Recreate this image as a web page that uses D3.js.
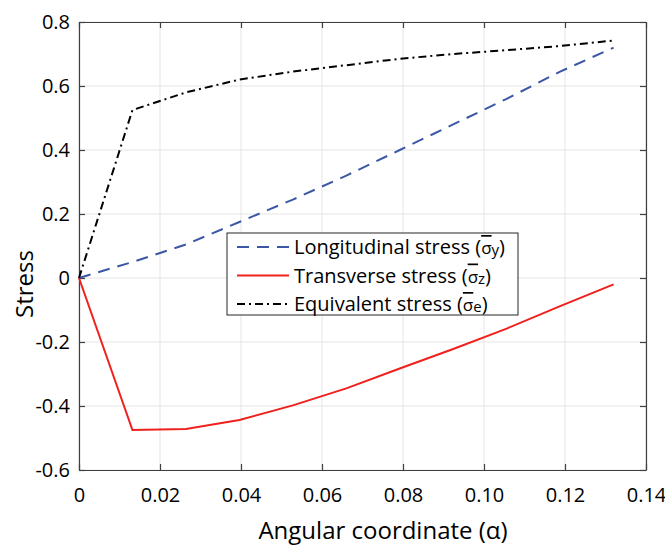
<!DOCTYPE html>
<html>
<head>
<meta charset="utf-8">
<script src="https://cdn.jsdelivr.net/npm/d3@7"></script>
<style>
  body { margin: 0; background: #fff; }
  text { font-family: "Open Sans", sans-serif; fill: #000; }
</style>
</head>
<body>
<svg id="chart" width="665" height="548"></svg>
<script>
// angular coordinate samples
var alpha = [0, 0.0132, 0.0264, 0.0396, 0.0528, 0.066, 0.0792, 0.0924, 0.1056, 0.1188, 0.132];
// longitudinal, transverse, equivalent stress
var longitudinal = [0, 0.05, 0.105, 0.175, 0.245, 0.32, 0.40, 0.48, 0.56, 0.645, 0.72];
var transverse = [0, -0.475, -0.472, -0.444, -0.398, -0.345, -0.283, -0.222, -0.158, -0.088, -0.02];
var equivalent = [0, 0.525, 0.58, 0.62, 0.645, 0.665, 0.685, 0.70, 0.712, 0.725, 0.742];

var xTicks = [0, 0.02, 0.04, 0.06, 0.08, 0.10, 0.12, 0.14];
var xTickLabels = ["0", "0.02", "0.04", "0.06", "0.08", "0.10", "0.12", "0.14"];
var yTicks = [-0.6, -0.4, -0.2, 0, 0.2, 0.4, 0.6, 0.8];
var yTickLabels = ["-0.6", "-0.4", "-0.2", "0", "0.2", "0.4", "0.6", "0.8"];

var series = [
    { name: "Longitudinal stress (", sub: "y", values: longitudinal, color: "#3b57a6", dash: "12,8", width: 2 },
    { name: "Transverse stress (", sub: "z", values: transverse, color: "#f0201c", dash: null, width: 2 },
    { name: "Equivalent stress (", sub: "e", values: equivalent, color: "#000", dash: "8,4,2,4", width: 2 }
];

var margin = { top: 22, right: 19, bottom: 78, left: 79 };
var width = 665 - margin.left - margin.right;
var height = 548 - margin.top - margin.bottom;

var svg = d3.select("#chart");
var g = svg.append("g").attr("transform", "translate(" + margin.left + "," + margin.top + ")");

var x = d3.scaleLinear().domain([0, 0.14]).range([0, width]);
var y = d3.scaleLinear().domain([-0.6, 0.8]).range([height, 0]);

// grid
g.append("g").selectAll("line").data(xTicks).enter().append("line")
    .attr("x1", function (d) { return x(d); }).attr("x2", function (d) { return x(d); })
    .attr("y1", 0).attr("y2", height)
    .attr("stroke", "#e5e5e5").attr("stroke-width", 1);
g.append("g").selectAll("line").data(yTicks).enter().append("line")
    .attr("y1", function (d) { return y(d); }).attr("y2", function (d) { return y(d); })
    .attr("x1", 0).attr("x2", width)
    .attr("stroke", "#e5e5e5").attr("stroke-width", 1);

// axes, ticks inside like a boxed plot
function styleAxis(sel) {
    sel.select(".domain").attr("stroke", "#404040").attr("stroke-width", 1.2);
    sel.selectAll(".tick line").attr("stroke", "#404040").attr("stroke-width", 1.2);
    sel.selectAll(".tick text").style("font-size", "20px").attr("fill", "#000");
}

var xAxis = g.append("g").attr("transform", "translate(0," + height + ")")
    .call(d3.axisBottom(x).tickValues(xTicks).tickSizeInner(-6).tickSizeOuter(0).tickPadding(18)
        .tickFormat(function (d, i) { return xTickLabels[i]; }));
styleAxis(xAxis);
var xTop = g.append("g")
    .call(d3.axisTop(x).tickValues(xTicks).tickSizeInner(-6).tickSizeOuter(0).tickFormat(""));
styleAxis(xTop);

var yAxis = g.append("g")
    .call(d3.axisLeft(y).tickValues(yTicks).tickSizeInner(-6).tickSizeOuter(0).tickPadding(9)
        .tickFormat(function (d, i) { return yTickLabels[i]; }));
styleAxis(yAxis);
var yRight = g.append("g").attr("transform", "translate(" + width + ",0)")
    .call(d3.axisRight(y).tickValues(yTicks).tickSizeInner(-6).tickSizeOuter(0).tickFormat(""));
styleAxis(yRight);

// lines
var line = d3.line()
    .x(function (d, i) { return x(alpha[i]); })
    .y(function (d) { return y(d); });

series.forEach(function (s) {
    g.append("path")
        .datum(s.values)
        .attr("d", line)
        .attr("fill", "none")
        .attr("stroke", s.color)
        .attr("stroke-width", s.width)
        .attr("stroke-dasharray", s.dash);
});

// axis titles
svg.append("text")
    .attr("x", 383).attr("y", 539)
    .attr("text-anchor", "middle")
    .style("font-size", "24px")
    .text("Angular coordinate (α)");

svg.append("text")
    .attr("transform", "translate(33,284) rotate(-90)")
    .attr("text-anchor", "middle")
    .style("font-size", "24px")
    .text("Stress");

// legend
var legend = svg.append("g").attr("transform", "translate(227,233)");
legend.append("rect")
    .attr("width", 291).attr("height", 82)
    .attr("fill", "#fff").attr("stroke", "#262626").attr("stroke-width", 1);

series.forEach(function (s, i) {
    var row = legend.append("g").attr("transform", "translate(0," + (14 + i * 28.5) + ")");
    row.append("line")
        .attr("x1", 10).attr("x2", 62).attr("y1", 0).attr("y2", 0)
        .attr("stroke", s.color).attr("stroke-width", s.width)
        .attr("stroke-dasharray", s.dash);
    var t = row.append("text").attr("x", 67).attr("y", 7).style("font-size", "20px");
    t.append("tspan").text(s.name);
    t.append("tspan").style("text-decoration", "overline").style("font-size", "17px").text("σ");
    t.append("tspan").style("font-size", "15px").attr("dy", 1).text(s.sub);
    t.append("tspan").attr("dy", -1).text(")");
});
</script>
</body>
</html>
